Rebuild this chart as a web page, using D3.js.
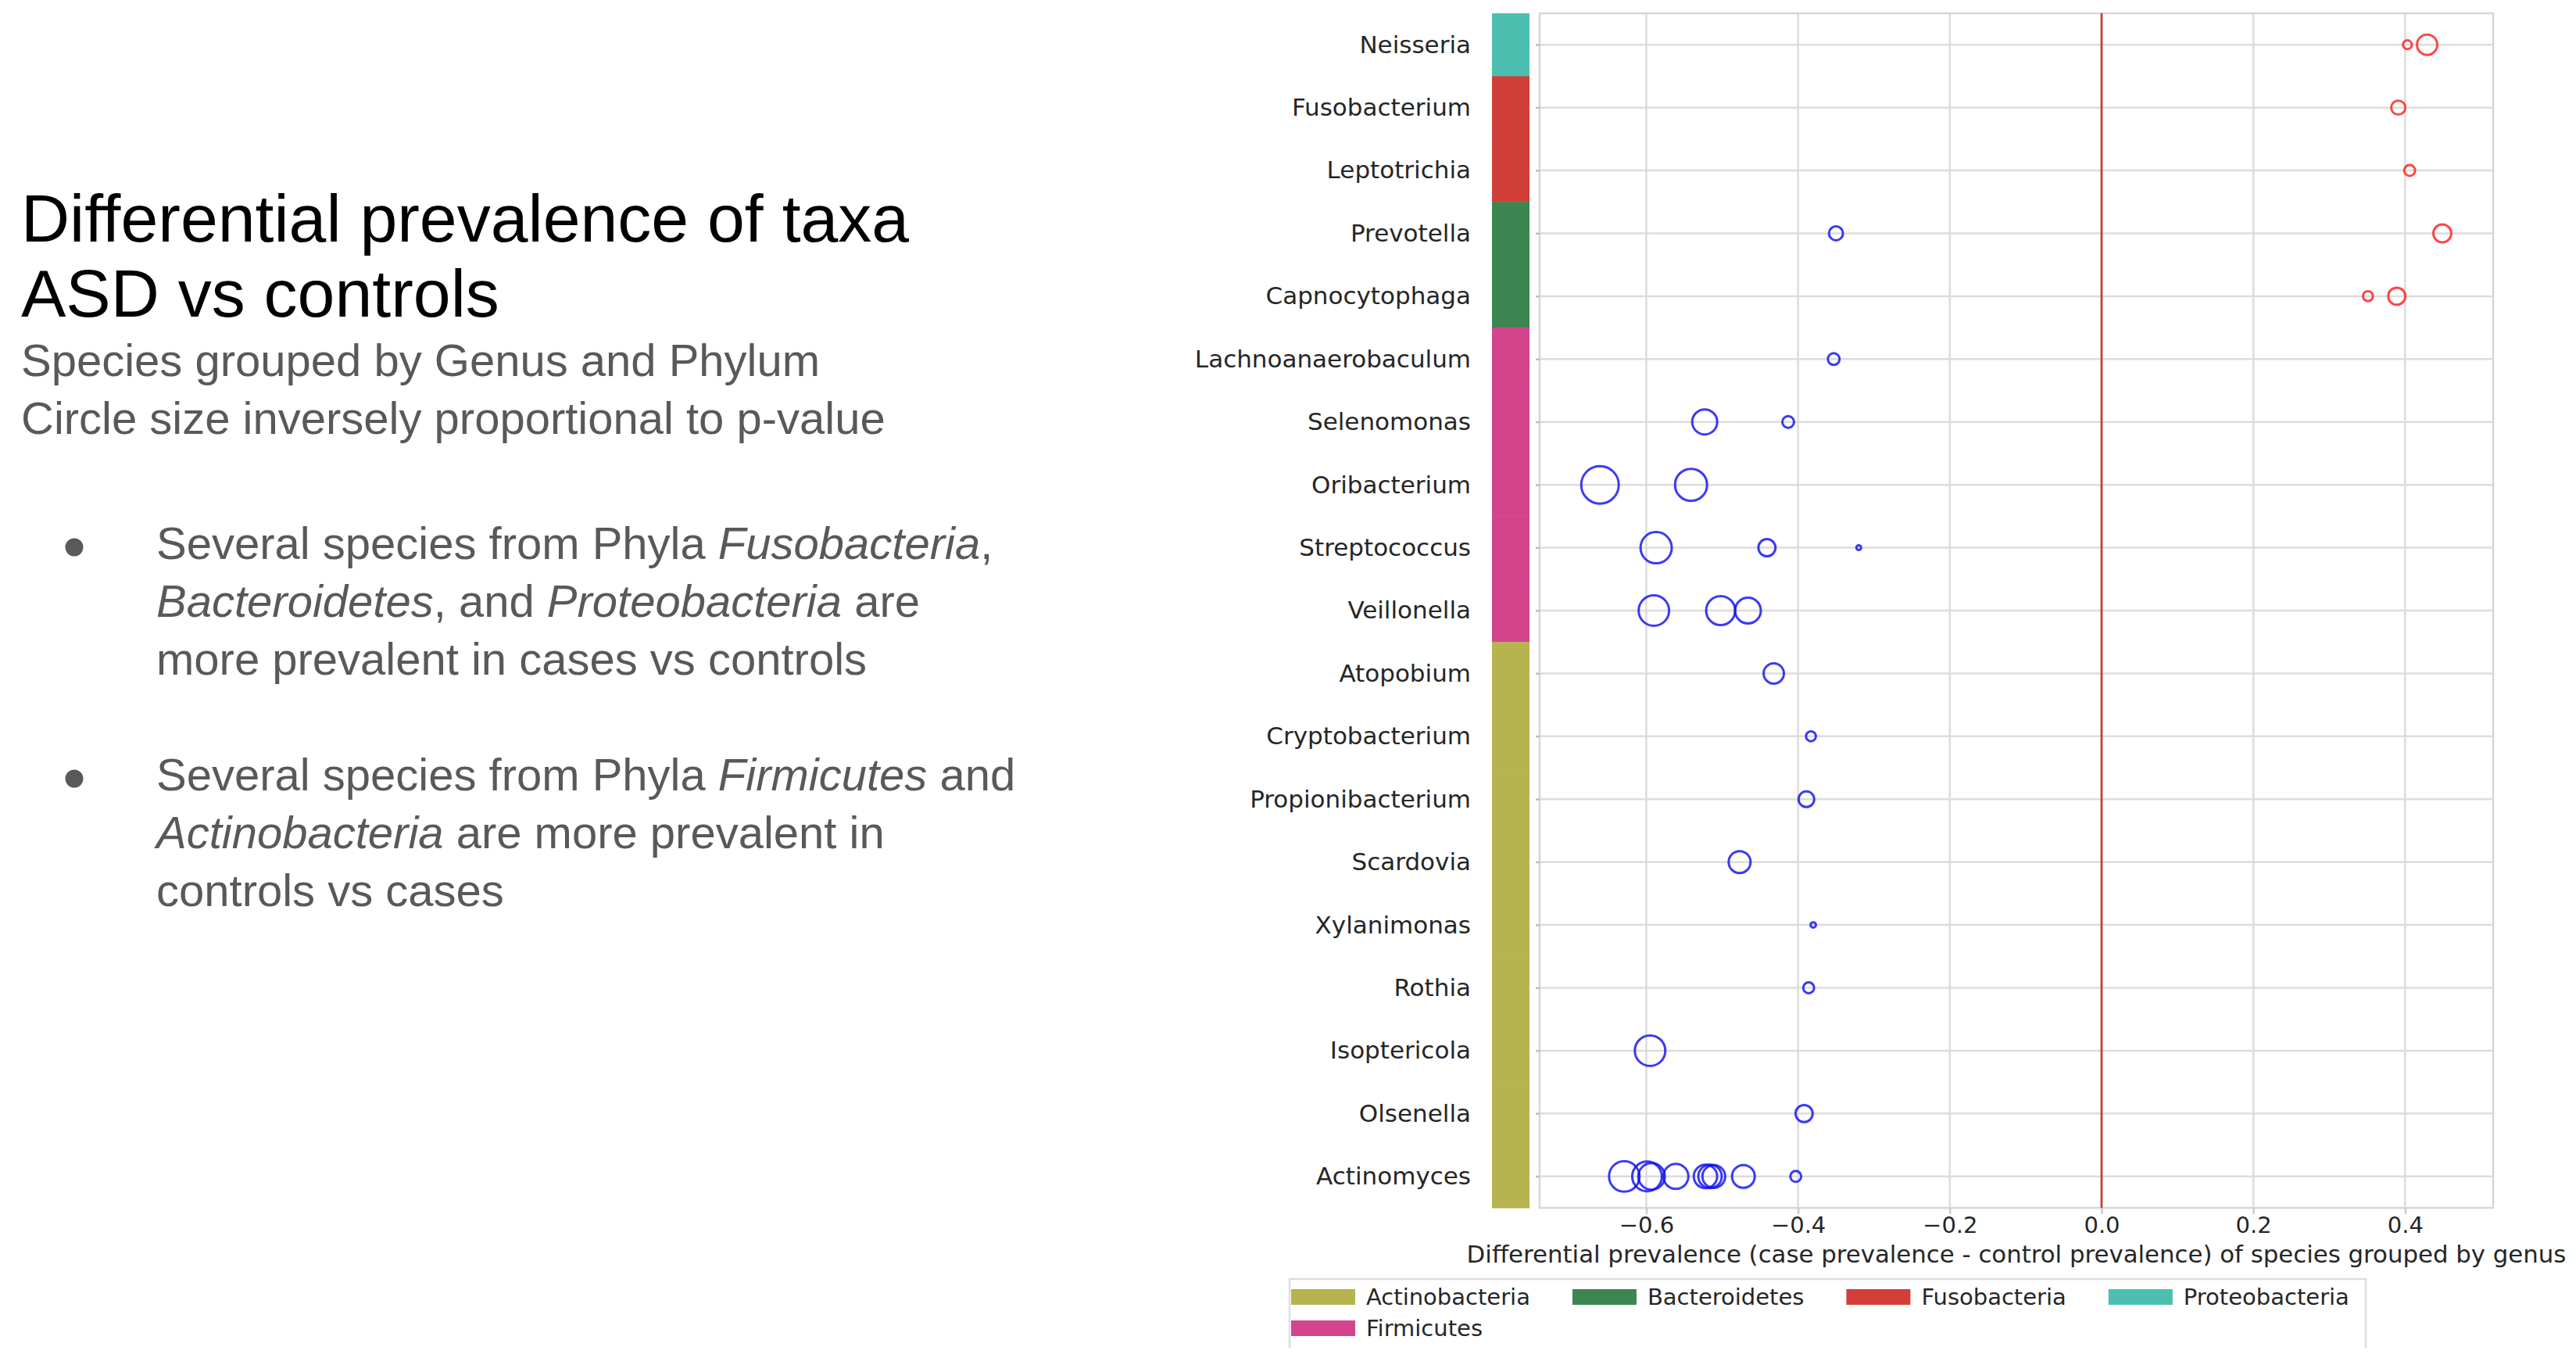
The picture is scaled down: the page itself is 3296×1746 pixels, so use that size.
<!DOCTYPE html>
<html lang="en">
<head>
<meta charset="utf-8">
<title>Differential prevalence of taxa</title>
<script src="https://d3js.org/d3.v7.min.js"></script>
<style>
  body { margin: 0; background: #fff; }
  svg { display: block; }
  .slide text { font-family: "Liberation Sans", Arial, sans-serif; }
  .chart text { font-family: "DejaVu Sans", sans-serif; fill: #262626; }
</style>
</head>
<body>
<svg id="main" width="3296" height="1746"></svg>
<script>
// genera top to bottom, with their phylum
const genera = ["Neisseria", "Fusobacterium", "Leptotrichia", "Prevotella", "Capnocytophaga",
  "Lachnoanaerobaculum", "Selenomonas", "Oribacterium", "Streptococcus", "Veillonella",
  "Atopobium", "Cryptobacterium", "Propionibacterium", "Scardovia", "Xylanimonas",
  "Rothia", "Isoptericola", "Olsenella", "Actinomyces"];
const genusPhylum = ["Proteobacteria", "Fusobacteria", "Fusobacteria", "Bacteroidetes", "Bacteroidetes",
  "Firmicutes", "Firmicutes", "Firmicutes", "Firmicutes", "Firmicutes",
  "Actinobacteria", "Actinobacteria", "Actinobacteria", "Actinobacteria", "Actinobacteria",
  "Actinobacteria", "Actinobacteria", "Actinobacteria", "Actinobacteria"];

const phyla = ["Actinobacteria", "Bacteroidetes", "Fusobacteria", "Proteobacteria", "Firmicutes"];
const phylumColors = ["#b5b44e", "#3d8551", "#d23f38", "#4cbfb1", "#d3448d"];

// one entry per species: genus, differential prevalence, inverse p-value weight
const speciesGenus = ["Neisseria", "Neisseria", "Fusobacterium", "Leptotrichia", "Prevotella", "Prevotella",
  "Capnocytophaga", "Capnocytophaga", "Lachnoanaerobaculum", "Selenomonas", "Selenomonas",
  "Oribacterium", "Oribacterium", "Streptococcus", "Streptococcus", "Streptococcus",
  "Veillonella", "Veillonella", "Veillonella", "Atopobium", "Cryptobacterium", "Propionibacterium",
  "Scardovia", "Xylanimonas", "Rothia", "Isoptericola", "Olsenella",
  "Actinomyces", "Actinomyces", "Actinomyces", "Actinomyces", "Actinomyces",
  "Actinomyces", "Actinomyces", "Actinomyces", "Actinomyces"];
const speciesDiff = [0.403, 0.429, 0.391, 0.406, -0.350, 0.449,
  0.351, 0.389, -0.353, -0.523, -0.413,
  -0.661, -0.541, -0.587, -0.441, -0.320,
  -0.590, -0.502, -0.466, -0.432, -0.383, -0.389,
  -0.477, -0.380, -0.386, -0.595, -0.392,
  -0.629, -0.599, -0.593, -0.561, -0.522,
  -0.516, -0.511, -0.472, -0.403];
const speciesWeight = [8, 42, 20, 12, 20, 33,
  10, 30, 14, 64, 14,
  144, 105, 100, 30, 2.3,
  95, 86, 68, 42, 10, 25,
  49, 3, 12, 95, 30,
  95, 90, 72, 64, 56,
  56, 53, 53, 12];

const xTicks = [-0.6, -0.4, -0.2, 0.0, 0.2, 0.4];

const svg = d3.select("#main");

// ---------- left side text ----------
const slide = svg.append("g").attr("class", "slide");
slide.append("text").attr("x", 27).attr("y", 309).attr("font-size", 86).attr("fill", "#000")
  .text("Differential prevalence of taxa");
slide.append("text").attr("x", 27).attr("y", 405).attr("font-size", 86).attr("fill", "#000")
  .text("ASD vs controls");
slide.append("text").attr("x", 27).attr("y", 481).attr("font-size", 58).attr("fill", "#595959")
  .text("Species grouped by Genus and Phylum");
slide.append("text").attr("x", 27).attr("y", 555).attr("font-size", 58).attr("fill", "#595959")
  .text("Circle size inversely proportional to p-value");

// bullets: each line is a list of [text, italic]
const bullets = [
  { y: 715, lines: [
    [["Several species from Phyla ", false], ["Fusobacteria", true], [",", false]],
    [["Bacteroidetes", true], [", and ", false], ["Proteobacteria", true], [" are", false]],
    [["more prevalent in cases vs controls", false]] ] },
  { y: 1011, lines: [
    [["Several species from Phyla ", false], ["Firmicutes", true], [" and", false]],
    [["Actinobacteria", true], [" are more prevalent in", false]],
    [["controls vs cases", false]] ] }
];
bullets.forEach(b => {
  slide.append("circle").attr("cx", 95).attr("cy", b.y - 15).attr("r", 11.5).attr("fill", "#595959");
  b.lines.forEach((line, i) => {
    const t = slide.append("text").attr("x", 200).attr("y", b.y + i * 74)
      .attr("font-size", 58).attr("fill", "#595959").attr("xml:space", "preserve");
    line.forEach(seg => {
      t.append("tspan").attr("font-style", seg[1] ? "italic" : "normal").text(seg[0]);
    });
  });
});

// ---------- chart ----------
const chart = svg.append("g").attr("class", "chart");
const plot = { left: 1970, right: 3190, top: 17, bottom: 1545 };

const x = d3.scaleLinear().domain([-0.7405, 0.516]).range([plot.left, plot.right]);
const y = d3.scalePoint().domain(genera).range([plot.top, plot.bottom]).padding(0.5);
const r = d3.scaleSqrt().domain([0, 100]).range([0, 20]);
const colorOf = d3.scaleOrdinal().domain(phyla).range(phylumColors);

// grid
chart.append("g").selectAll("line.vg").data(xTicks).join("line")
  .attr("x1", d => x(d)).attr("x2", d => x(d))
  .attr("y1", plot.top).attr("y2", plot.bottom)
  .attr("stroke", "#dcdcdc").attr("stroke-width", 2.5);
chart.append("g").selectAll("line.hg").data(genera).join("line")
  .attr("x1", plot.left - 5).attr("x2", plot.right)
  .attr("y1", d => y(d)).attr("y2", d => y(d))
  .attr("stroke", "#dcdcdc").attr("stroke-width", 2.5);

// frame
chart.append("rect").attr("x", plot.left).attr("y", plot.top)
  .attr("width", plot.right - plot.left).attr("height", plot.bottom - plot.top)
  .attr("fill", "none").attr("stroke", "#d6d6d6").attr("stroke-width", 2.5);

// zero line
chart.append("line").attr("x1", x(0)).attr("x2", x(0))
  .attr("y1", plot.top).attr("y2", plot.bottom)
  .attr("stroke", "#c8352c").attr("stroke-width", 2.6);

// phylum colour strip
const step = y.step();
chart.append("g").selectAll("rect").data(genera).join("rect")
  .attr("x", 1909).attr("width", 48)
  .attr("y", d => y(d) - step / 2).attr("height", step + 0.5)
  .attr("fill", (d, i) => colorOf(genusPhylum[i]));

// y axis labels
const yAxis = d3.axisLeft(y).tickSize(5).tickPadding(83);
const yg = chart.append("g").attr("transform", `translate(${plot.left},0)`).call(yAxis);
yg.select(".domain").remove();
yg.selectAll(".tick line").attr("stroke", "#bbbbbb").attr("stroke-width", 2);
yg.selectAll(".tick text").attr("font-size", 31).attr("font-family", "DejaVu Sans").attr("fill", "#262626");

// x axis
const xAxis = d3.axisBottom(x).tickValues(xTicks).tickFormat(d3.format(".1f")).tickSize(8).tickPadding(3);
const xg = chart.append("g").attr("transform", `translate(0,${plot.bottom})`).call(xAxis);
xg.select(".domain").remove();
xg.selectAll(".tick line").attr("stroke", "#cccccc").attr("stroke-width", 2.5);
xg.selectAll(".tick text").attr("font-size", 29).attr("font-family", "DejaVu Sans").attr("fill", "#262626");

chart.append("text").attr("x", (plot.left + plot.right) / 2).attr("y", 1615)
  .attr("text-anchor", "middle").attr("font-size", 30.8)
  .text("Differential prevalence (case prevalence - control prevalence) of species grouped by genus");

// species circles
const species = speciesGenus.map((g, i) => ({ genus: g, diff: speciesDiff[i], w: speciesWeight[i] }));
chart.append("g").selectAll("circle").data(species).join("circle")
  .attr("cx", d => x(d.diff)).attr("cy", d => y(d.genus))
  .attr("r", d => r(d.w))
  .attr("fill", "none")
  .attr("stroke", d => d.diff > 0 ? "#ff1f1f" : "#1010f0")
  .attr("stroke-opacity", 0.82)
  .attr("stroke-width", 3);

// legend
const legend = chart.append("g");
legend.append("path").attr("d", "M1650,1724 V1636 H3027 V1724")
  .attr("fill", "none").attr("stroke", "#dddddd").attr("stroke-width", 2.5);
const legendRows = [[0, 1, 2, 3], [4]];
const colStarts = [];
let cx = 1652;
legendRows[0].forEach((pi, c) => {
  colStarts.push(cx);
  const t = legend.append("text").attr("font-size", 29).text(phyla[pi]);
  let w = t.node().getComputedTextLength();
  t.remove();
  legendRows.slice(1).forEach(row => {
    if (row[c] !== undefined) {
      const t2 = legend.append("text").attr("font-size", 29).text(phyla[row[c]]);
      w = Math.max(w, t2.node().getComputedTextLength());
      t2.remove();
    }
  });
  cx += 82 + 14 + w + 54;
});
legendRows.forEach((row, ri) => {
  const cy = 1659 + ri * 40;
  row.forEach((pi, c) => {
    legend.append("rect").attr("x", colStarts[c]).attr("y", cy - 10)
      .attr("width", 82).attr("height", 20).attr("fill", phylumColors[pi]);
    legend.append("text").attr("x", colStarts[c] + 96).attr("y", cy).attr("dy", "0.36em")
      .attr("font-size", 29).text(phyla[pi]);
  });
});
</script>
</body>
</html>
